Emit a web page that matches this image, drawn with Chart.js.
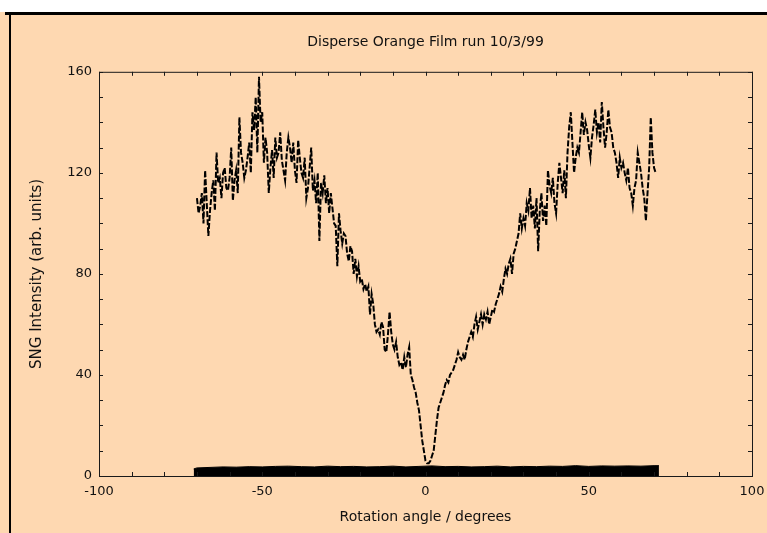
<!DOCTYPE html>
<html>
<head>
<meta charset="utf-8">
<script src="https://cdn.jsdelivr.net/npm/chart.js@4.4.1/dist/chart.umd.min.js"></script>
<style>
  body { margin: 0; background: #fff; }
  #wrap { position: relative; width: 767px; height: 533px; overflow: hidden; background: #fff; }
  #paper { position: absolute; left: 0; top: 12px; width: 767px; height: 521px; background: #fed8b1; }
  #edgeTop { position: absolute; left: 5px; top: 12px; width: 762px; height: 3px; background: #000; }
  #edgeLeft { position: absolute; left: 9px; top: 12px; width: 2px; height: 521px; background: #000; }
  canvas { position: absolute; left: 0; top: 0; }
</style>
</head>
<body>
<div id="wrap">
  <div id="paper"></div>
  <div id="edgeTop"></div>
  <div id="edgeLeft"></div>
  <canvas id="grafico" width="767" height="533"></canvas>
</div>
<script>
// datos: SNG vs angulo, muestras cada 0.5 grados desde -70
const angleStart = -70;
const angleStep = 0.5;
const sngValues = [
  110,104,107,112,100,121,108,95,105,112,      // -70 .. -65.5
  117,105,128,116,118,110,120,122,114,113,     // -65 .. -60.5
  118,130,109,117,121,112,142,128,124,118,     // -60 .. -55.5
  121,126,132,120,144,137,150,128,158,140,     // -55 .. -50.5
  144,124,134,128,112,122,129,118,134,126,     // -50 .. -45.5
  128,136,125,121,117,128,134,130,124,132,     // -45 .. -40.5
  121,116,133,126,120,118,126,110,114,122,     // -40 .. -35.5
  130,113,117,108,120,93,116,112,119,108,      // -35 .. -30.5
  114,104,112,106,100,99,83,104,97,92,         // -30 .. -25.5
  96,95,88,85,91,89,80,86,79,83,               // -25 .. -20.5
  77,78,74,76,73,75,64,72,68,60,               // -20 .. -15.5
  57,58,56,61,59,50,49,56,65,57,               // -15 .. -10.5
  52,50,53,47,44,45,42,47,43,48,               // -10 .. -5.5
  51,40,38,35,33,29,26,20,14,10,               // -5 .. -0.5
  6,5,5,6,8,10,16,22,27,29,                    // 0 .. 4.5
  31,33,36,38,37,40,41,42,44,46,               // 5 .. 9.5
  49,47,46,48,46,50,53,55,57,55,               // 10 .. 14.5
  60,63,58,61,64,60,64,62,65,60,               // 15 .. 19.5
  63,66,65,68,70,72,75,73,78,82,               // 20 .. 24.5
  80,84,86,80,88,90,93,96,104,98,              // 25 .. 29.5
  102,99,108,105,114,102,107,98,110,89,        // 30 .. 34.5
  105,112,101,107,99,121,115,112,118,108,      // 35 .. 39.5
  104,116,124,118,112,121,110,128,138,144,     // 40 .. 44.5
  132,120,126,130,128,136,144,135,140,137,     // 45 .. 49.5
  131,126,134,139,145,136,140,132,148,138,     // 50 .. 54.5
  130,136,145,138,136,130,128,124,118,126,     // 55 .. 59.5
  122,124,120,117,122,114,112,107,114,117,     // 60 .. 64.5
  128,124,120,114,110,101,112,122,142,128,     // 65 .. 69.5
  122,120                                      // 70 .. 70.5
];

// banda de fondo (senal base) cerca de cero
const bandAngles = [-71,-70,-66,-62,-58,-54,-50,-46,-42,-38,-34,-30,-26,-22,-18,-14,-10,-6,-2,2,6,10,14,18,22,26,30,34,38,42,46,50,54,58,62,66,70,71.5];
const bandValues = [2.8,3.2,3.4,3.6,3.5,3.7,3.6,3.8,3.9,3.7,3.6,3.9,3.7,3.8,3.6,3.7,3.9,3.6,3.8,4.0,3.7,3.8,3.6,3.7,3.9,3.6,3.8,3.7,3.9,3.8,4.1,3.8,4.0,3.9,4.0,3.9,4.1,4.1];

const xLabels = [-100, -50, 0, 50, 100];
const yLabels = [0, 40, 80, 120, 160];

const sngPoints = sngValues.map((v, i) => ({ x: angleStart + i * angleStep, y: v }));
const bandPoints = bandAngles.map((a, i) => ({ x: a, y: bandValues[i] }));

const fuente = 'DejaVu Sans';

// marco del area y marcas hacia dentro
const marco = {
  id: 'marco',
  afterDatasetsDraw(chart) {
    const { ctx, chartArea: a, scales: { x, y } } = chart;
    ctx.save();
    ctx.strokeStyle = '#1a1a1a';
    ctx.lineWidth = 1;
    ctx.strokeRect(a.left + 0.5, a.top + 0.5, a.right - a.left, a.bottom - a.top);
    ctx.beginPath();
    x.ticks.forEach(t => {
      const px = Math.round(x.getPixelForValue(t.value)) + 0.5;
      ctx.moveTo(px, a.top); ctx.lineTo(px, a.top + 4);
      ctx.moveTo(px, a.bottom); ctx.lineTo(px, a.bottom - 4);
    });
    y.ticks.forEach(t => {
      const py = Math.round(y.getPixelForValue(t.value)) + 0.5;
      ctx.moveTo(a.left, py); ctx.lineTo(a.left + 4, py);
      ctx.moveTo(a.right, py); ctx.lineTo(a.right - 4, py);
    });
    ctx.stroke();
    ctx.restore();
  }
};

new Chart(document.getElementById('grafico').getContext('2d'), {
  type: 'line',
  data: {
    datasets: [
      {
        data: sngPoints,
        borderColor: '#000',
        borderWidth: 2,
        borderDash: [6, 2],
        pointRadius: 0,
        tension: 0,
        fill: false
      },
      {
        data: bandPoints,
        borderColor: '#000',
        borderWidth: 1,
        backgroundColor: '#000',
        pointRadius: 0,
        tension: 0,
        fill: 'origin'
      }
    ]
  },
  plugins: [marco],
  options: {
    responsive: false,
    animation: false,
    layout: { padding: { left: 0, right: 15, top: 0, bottom: 0 } },
    plugins: {
      legend: { display: false },
      tooltip: { enabled: false },
      title: {
        display: true,
        fullSize: false,
        text: 'Disperse Orange Film run 10/3/99',
        color: '#111',
        font: { family: fuente, size: 14, weight: 'normal' },
        padding: { top: 34, bottom: 21 }
      }
    },
    scales: {
      x: {
        type: 'linear',
        min: -100,
        max: 100,
        afterFit(s) { s.height = 57; s.paddingLeft = 0; s.paddingRight = 0; },
        grid: { drawOnChartArea: false, drawTicks: false },
        border: { display: false },
        ticks: {
          stepSize: 10,
          autoSkip: false,
          maxRotation: 0,
          padding: 8,
          color: '#111',
          font: { family: fuente, size: 13 },
          callback: v => xLabels.includes(v) ? String(v) : ''
        },
        title: {
          display: true,
          text: 'Rotation angle / degrees',
          color: '#111',
          font: { family: fuente, size: 14 },
          padding: { top: 0, bottom: 7 }
        }
      },
      y: {
        min: 0,
        max: 160,
        afterFit(s) { s.width = 99; },
        grid: { drawOnChartArea: false, drawTicks: false },
        border: { display: false },
        ticks: {
          stepSize: 10,
          autoSkip: false,
          padding: 7,
          color: '#111',
          font: { family: fuente, size: 13 },
          callback: v => yLabels.includes(v) ? String(v) : ''
        },
        title: {
          display: true,
          text: 'SNG Intensity (arb. units)',
          color: '#111',
          font: { family: fuente, size: 15 },
          padding: { top: 28, bottom: 0 }
        }
      }
    }
  }
});
</script>
</body>
</html>
